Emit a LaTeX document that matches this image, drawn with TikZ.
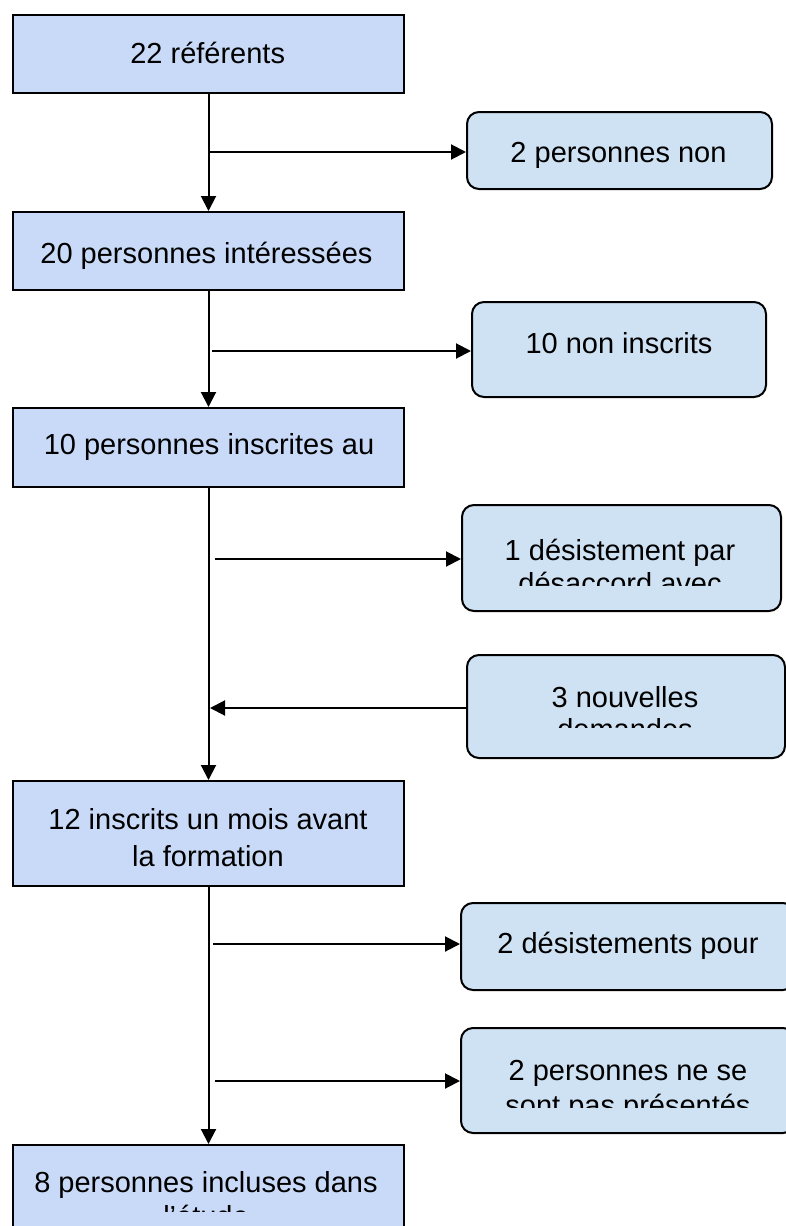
\documentclass[tikz,border=0pt]{standalone}
\usepackage{fontspec}
\setmainfont{Liberation Sans}
\usetikzlibrary{arrows.meta}
\definecolor{lfill}{HTML}{C9DAF8}
\definecolor{rfill}{HTML}{CFE2F3}
\begin{document}
\begin{tikzpicture}[x=1pt,y=-1pt,
  lbox/.style={draw=black,line width=2pt,fill=lfill,rectangle,inner sep=0pt},
  rbox/.style={draw=black,line width=2pt,fill=rfill,rectangle,rounded corners=12pt,inner sep=0pt},
  txt/.style={anchor=base,inner sep=0pt,font=\fontsize{29}{36}\selectfont},
  conn/.style={line width=2pt,-{Triangle[length=15pt,width=15pt]}}]
\useasboundingbox (0,0) rectangle (786,1226);
% left boxes
\node[lbox,minimum width=391pt,minimum height=78pt] (b1) at (208.5,54) {};
\node[lbox,minimum width=391pt,minimum height=78pt] (b2) at (208.5,251) {};
\node[lbox,minimum width=391pt,minimum height=79pt] (b3) at (208.5,447.5) {};
\node[lbox,minimum width=391pt,minimum height=105pt] (b5) at (208.5,833.5) {};
\node[lbox,minimum width=391pt,minimum height=125pt] (b7) at (208.5,1207.5) {};
% right boxes
\node[rbox,minimum width=305pt,minimum height=77pt] (r1) at (619.5,150.5) {};
\node[rbox,minimum width=294pt,minimum height=95pt] (r2) at (619,349.5) {};
\node[rbox,minimum width=319pt,minimum height=106pt] (r3) at (621.5,558) {};
\node[rbox,minimum width=318pt,minimum height=103pt] (r4) at (626,706.5) {};
\node[rbox,minimum width=334pt,minimum height=87pt] (r5) at (628,946.5) {};
\node[rbox,minimum width=334pt,minimum height=105pt] (r6) at (628,1080.5) {};
% texts
\node[txt] (t1) at (207.7,63) {22 référents};
\node[txt] (t2) at (206.5,263) {20 personnes intéressées};
\node[txt] (t3) at (209,454) {10 personnes inscrites au};
\node[txt] (t5a) at (208,829) {12 inscrits un mois avant};
\node[txt] (t5b) at (208,866) {la formation};
\node[txt] (t7a) at (206,1192) {8 personnes incluses dans};
\begin{scope}
\clip (20,1200) rectangle (400,1211);
\node[txt] (t7b) at (206,1226) {l’étude};
\end{scope}
\node[txt] (rt1) at (618.5,162) {2 personnes non};
\node[txt] (rt2) at (619,353) {10 non inscrits};
\node[txt] (rt3a) at (620,560) {1 désistement par};
\begin{scope}
\clip (470,566) rectangle (775,585);
\node[txt] (rt3b) at (620,593) {désaccord avec};
\end{scope}
\node[txt] (rt4a) at (625,707) {3 nouvelles};
\begin{scope}
\clip (470,714) rectangle (780,727);
\node[txt] (rt4b) at (625,739) {demandes};
\end{scope}
\node[txt] (rt5) at (628,953) {2 désistements pour};
\node[txt] (rt6a) at (628,1080) {2 personnes ne se};
\begin{scope}
\clip (470,1088) rectangle (786,1107);
\node[txt] (rt6b) at (628,1115) {sont pas présentés};
\end{scope}
% trunk
\draw[conn] (b1.south) -- (b2.north);
\draw[conn] (b2.south) -- (b3.north);
\draw[conn] (b3.south) -- (b5.north);
\draw[conn] (b5.south) -- (b7.north);
% side arrows
\coordinate (a1) at (210,152);
\coordinate (a2) at (212,351);
\coordinate (a3) at (215,559);
\coordinate (a4) at (210,708);
\coordinate (a5) at (213,944);
\coordinate (a6) at (215,1081);
\draw[conn] (a1) -- (a1 -| r1.west);
\draw[conn] (a2) -- (a2 -| r2.west);
\draw[conn] (a3) -- (a3 -| r3.west);
\draw[conn] (a4 -| r4.west) -- (a4);
\draw[conn] (a5) -- (a5 -| r5.west);
\draw[conn] (a6) -- (a6 -| r6.west);
\end{tikzpicture}
\end{document}
